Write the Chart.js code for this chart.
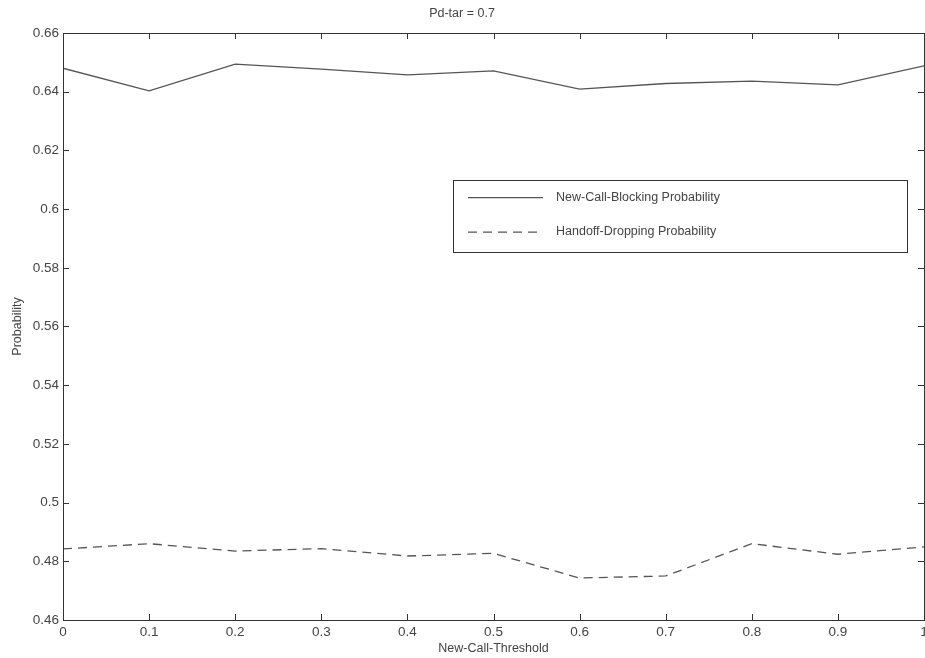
<!DOCTYPE html>
<html>
<head>
<meta charset="utf-8">
<script src="https://cdn.jsdelivr.net/npm/chart.js@4"></script>
<style>
  html, body { margin: 0; padding: 0; background: #fff; }
  #wrap { width: 925px; height: 658px; }
</style>
</head>
<body>
<div id="wrap"><canvas id="chart" width="925" height="658"></canvas></div>
<script>
// --- data ---
const thresholds = [0, 0.1, 0.2, 0.3, 0.4, 0.5, 0.6, 0.7, 0.8, 0.9, 1];
const blockingProb = [0.6480, 0.6403, 0.6494, 0.6477, 0.6457, 0.6471, 0.6409, 0.6428, 0.6436, 0.6423, 0.6488];
const droppingProb = [0.4842, 0.4860, 0.4835, 0.4843, 0.4818, 0.4827, 0.4743, 0.4750, 0.4860, 0.4824, 0.4849];
const xTicks = [0, 0.1, 0.2, 0.3, 0.4, 0.5, 0.6, 0.7, 0.8, 0.9, 1];
const yTicks = [0.46, 0.48, 0.5, 0.52, 0.54, 0.56, 0.58, 0.6, 0.62, 0.64, 0.66];
const seriesNames = ["New-Call-Blocking Probability", "Handoff-Dropping Probability"];

const FONT = "'Liberation Sans', Arial, sans-serif";
const TEXT = "#444";
const AXIS = "#333";

// MATLAB style frame with inward ticks on all four sides
const framePlugin = {
  id: "frame",
  afterDraw(chart) {
    const { ctx, chartArea: a, scales } = chart;
    ctx.save();
    ctx.strokeStyle = AXIS;
    ctx.lineWidth = 1;
    ctx.strokeRect(a.left + 0.5, a.top + 0.5, a.right - a.left, a.bottom - a.top);
    ctx.beginPath();
    scales.x.ticks.forEach((t) => {
      const px = Math.round(scales.x.getPixelForValue(t.value)) + 0.5;
      ctx.moveTo(px, a.bottom); ctx.lineTo(px, a.bottom - 6);
      ctx.moveTo(px, a.top); ctx.lineTo(px, a.top + 6);
    });
    scales.y.ticks.forEach((t) => {
      const py = Math.round(scales.y.getPixelForValue(t.value)) + 0.5;
      ctx.moveTo(a.left, py); ctx.lineTo(a.left + 6, py);
      ctx.moveTo(a.right, py); ctx.lineTo(a.right - 6, py);
    });
    ctx.stroke();
    ctx.restore();
  },
};

// legend box inside the plot area, upper right
const boxLegend = {
  id: "boxLegend",
  afterDraw(chart) {
    const { ctx, chartArea: a } = chart;
    const x0 = a.left + (a.right - a.left) * 0.453;
    const x1 = a.left + (a.right - a.left) * 0.98;
    const y0 = a.top + (a.bottom - a.top) * 0.250;
    const y1 = a.top + (a.bottom - a.top) * 0.372;
    ctx.save();
    ctx.fillStyle = "#fff";
    ctx.fillRect(x0, y0, x1 - x0, y1 - y0);
    ctx.strokeStyle = AXIS;
    ctx.lineWidth = 1;
    ctx.strokeRect(Math.round(x0) + 0.5, Math.round(y0) + 0.5, Math.round(x1 - x0), Math.round(y1 - y0));
    ctx.font = "12.5px " + FONT;
    ctx.textBaseline = "middle";
    chart.data.datasets.forEach((ds, i) => {
      const ly = y0 + (y1 - y0) * (i === 0 ? 0.25 : 0.73);
      ctx.strokeStyle = ds.borderColor;
      ctx.lineWidth = ds.borderWidth;
      ctx.setLineDash(ds.borderDash || []);
      ctx.beginPath();
      ctx.moveTo(x0 + 15, ly);
      ctx.lineTo(x0 + 90, ly);
      ctx.stroke();
      ctx.setLineDash([]);
      ctx.fillStyle = TEXT;
      ctx.fillText(ds.label, x0 + 103, ly);
    });
    ctx.restore();
  },
};

new Chart(document.getElementById("chart"), {
  type: "line",
  data: {
    labels: thresholds,
    datasets: [
      {
        label: seriesNames[0],
        data: thresholds.map((x, i) => ({ x: x, y: blockingProb[i] })),
        borderColor: "#555",
        borderWidth: 1.3,
        pointRadius: 0,
        tension: 0,
      },
      {
        label: seriesNames[1],
        data: thresholds.map((x, i) => ({ x: x, y: droppingProb[i] })),
        borderColor: "#555",
        borderWidth: 1.3,
        borderDash: [9, 6],
        pointRadius: 0,
        tension: 0,
      },
    ],
  },
  options: {
    responsive: false,
    animation: false,
    layout: { padding: { top: 0, right: 1, bottom: 0, left: 0 } },
    plugins: {
      legend: { display: false },
      tooltip: { enabled: false },
      title: {
        display: true,
        text: "Pd-tar = 0.7",
        color: TEXT,
        font: { family: FONT, size: 12.5, weight: "normal" },
        padding: { top: 6, bottom: 12 },
      },
    },
    scales: {
      x: {
        type: "linear",
        min: 0,
        max: 1,
        afterBuildTicks: (s) => { s.ticks = xTicks.map((v) => ({ value: v })); },
        afterFit: (s) => { s.height = 38; s.paddingRight = 0; s.paddingLeft = 0; },
        grid: { display: false, drawTicks: false },
        border: { display: false },
        ticks: {
          color: TEXT,
          font: { family: FONT, size: 13.5 },
          padding: 4,
          maxRotation: 0,
          callback: (v) => String(v),
        },
        title: {
          display: true,
          text: "New-Call-Threshold",
          color: TEXT,
          font: { family: FONT, size: 12.5 },
          padding: { top: 0, bottom: 2 },
        },
      },
      y: {
        min: 0.46,
        max: 0.66,
        afterBuildTicks: (s) => { s.ticks = yTicks.map((v) => ({ value: v })); },
        afterFit: (s) => { s.width = 63; },
        grid: { display: false, drawTicks: false },
        border: { display: false },
        ticks: {
          color: TEXT,
          font: { family: FONT, size: 13.5 },
          padding: 4,
          callback: (v) => String(Number(v.toFixed(2))),
        },
        title: {
          display: true,
          text: "Probability",
          color: TEXT,
          font: { family: FONT, size: 12.5 },
          padding: { top: 10, bottom: 0 },
        },
      },
    },
  },
  plugins: [framePlugin, boxLegend],
});
</script>
</body>
</html>
